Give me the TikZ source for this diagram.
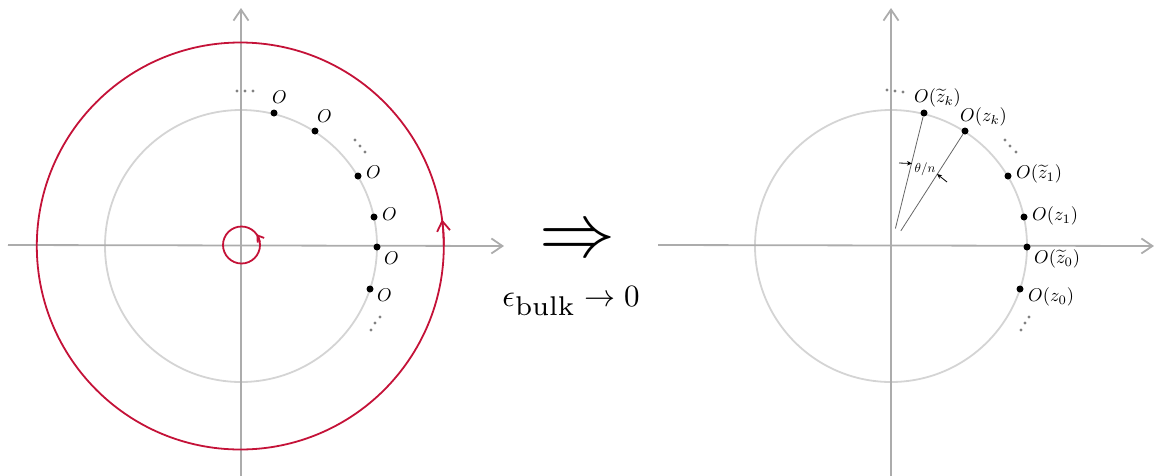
\documentclass[tikz,border=0pt]{standalone}
\usepackage{graphicx}
\usetikzlibrary{arrows.meta}
\definecolor{cred}{RGB}{196,18,56}
\definecolor{axisgray}{RGB}{172,172,172}
\definecolor{circgray}{RGB}{212,212,212}
\definecolor{dotgray}{RGB}{130,130,130}
\newcommand{\lbl}[1]{\scalebox{1.85}{$#1$}}
\begin{document}
\begin{tikzpicture}[x=1pt,y=-1pt,
  axis/.style={draw=axisgray,line width=1.8pt,-{Straight Barb[length=11pt,width=15pt]}},
  unit/.style={draw=circgray,line width=1.8pt},
  contour/.style={draw=cred,line width=1.8pt},
  optpt/.style={circle,fill=black,inner sep=0pt,minimum size=7pt},
  lab/.style={inner sep=0pt,anchor=west},
  ell/.style={fill=dotgray},
  ray/.style={draw=black!60,line width=0.8pt},
  dim/.style={draw=black,line width=0.8pt,-{Stealth[length=5pt,width=4.5pt]}}]
\useasboundingbox (0,0) rectangle (1154,475);

% ---------------- left panel ----------------
\coordinate (L) at (241,246);
\coordinate (Lx0) at (8,245);
\coordinate (Lx1) at (504,246);
\coordinate (Ly0) at (241,476);
\coordinate (Ly1) at (241,8);
\draw[unit] (L) circle (136);
\draw[axis] (Lx0) -- (Lx1);
\draw[axis] (Ly0) -- (Ly1);
\coordinate (R) at (240.3,246);
\draw[contour] (R) circle (203.5);
\draw[contour,-{Straight Barb[length=10pt,width=13pt]}] (R) ++(0:203.5) arc (0:-7.5:203.5);
\coordinate (S) at (241.5,245);
\draw[contour] (S) circle (18.5);
\draw[contour,-{Straight Barb[length=6pt,width=8pt]}] (S) ++(-10:18.5) arc (-10:-36:18.5);

\node[optpt] (a1) at (274,113) {};
\node[optpt] (a2) at (315,131) {};
\node[optpt] (a3) at (358,176) {};
\node[optpt] (a4) at (374,217) {};
\node[optpt] (a5) at (377,247) {};
\node[optpt] (a6) at (370,289) {};
\node[lab] (la1) at (272,97) {\lbl{O}};
\node[lab] (la2) at (317,116) {\lbl{O}};
\node[lab] (la3) at (366,172) {\lbl{O}};
\node[lab] (la4) at (382,214) {\lbl{O}};
\node[lab] (la5) at (384,258) {\lbl{O}};
\node[lab] (la6) at (377,295) {\lbl{O}};
\fill[ell] (237,91) circle (1.7) (245,91) circle (1.7) (253,91) circle (1.7);
\fill[ell] (355,140) circle (1.7) (360,146) circle (1.7) (365,152) circle (1.7);
\fill[ell] (380,317) circle (1.7) (375,323) circle (1.7) (371,330) circle (1.7);

% ---------------- middle ----------------
\node (impl) at (577,243) {\scalebox{7.6}{$\Rightarrow$}};
\node (lim) at (571,301) {\scalebox{3.1}{$\epsilon_{\scalebox{1.25}{$\scriptstyle\mathrm{bulk}$}}\to 0$}};

% ---------------- right panel ----------------
\coordinate (M) at (891,246);
\coordinate (Mx0) at (658,245);
\coordinate (Mx1) at (1154,246);
\coordinate (My0) at (891,476);
\coordinate (My1) at (891,8);
\draw[unit] (M) circle (136);
\draw[axis] (Mx0) -- (Mx1);
\draw[axis] (My0) -- (My1);

\node[optpt] (b1) at (924,113) {};
\node[optpt] (b2) at (965,131) {};
\node[optpt] (b3) at (1008,176) {};
\node[optpt] (b4) at (1024,217) {};
\node[optpt] (b5) at (1027,247) {};
\node[optpt] (b6) at (1020,289) {};
\node[lab] (lb1) at (914,98) {\lbl{O(\widetilde{z}_k)}};
\node[lab] (lb2) at (960,117) {\lbl{O(z_k)}};
\node[lab] (lb3) at (1016,174) {\lbl{O(\widetilde{z}_1)}};
\node[lab] (lb4) at (1032,216) {\lbl{O(z_1)}};
\node[lab] (lb5) at (1034,259) {\lbl{O(\widetilde{z}_0)}};
\node[lab] (lb6) at (1028,297) {\lbl{O(z_0)}};
\fill[ell] (887,90) circle (1.7) (895,91) circle (1.7) (903,92) circle (1.7);
\fill[ell] (1005,140) circle (1.7) (1010,146) circle (1.7) (1016,152) circle (1.7);
\fill[ell] (1029,317) circle (1.7) (1025,323) circle (1.7) (1021,330) circle (1.7);

\coordinate (r1) at (895.4,228.5);
\coordinate (r2) at (900.8,230.9);
\draw[ray] (r1) -- (b1);
\draw[ray] (r2) -- (b2);
\coordinate (d1s) at (899,163);
\coordinate (d1e) at (912,163.5);
\coordinate (d2s) at (947,182);
\coordinate (d2e) at (937,174);
\draw[dim] (d1s) -- (d1e);
\draw[dim] (d2s) -- (d2e);
\node[inner sep=0pt] (th) at (925,169) {\scalebox{1.3}{$\theta/n$}};
\end{tikzpicture}
\end{document}
